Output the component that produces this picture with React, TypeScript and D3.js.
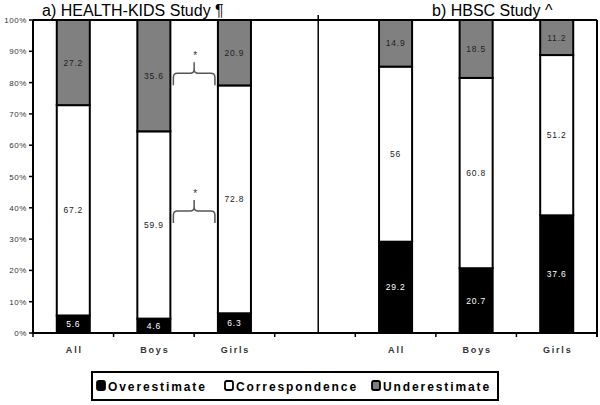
import React from "react";
import * as d3 from "d3";

const categories = ["All", "Boys", "Girls"];
const panelTitles = ["a) HEALTH-KIDS Study ¶", "b) HBSC Study ^"];
const keys = ["Overestimate", "Correspondence", "Underestimate"];
const overA = [5.6, 4.6, 6.3];
const corrA = [67.2, 59.9, 72.8];
const underA = [27.2, 35.6, 20.9];
const overB = [29.2, 20.7, 37.6];
const corrB = [56, 60.8, 51.2];
const underB = [14.9, 18.5, 11.2];
const yTicks = [0, 0.1, 0.2, 0.3, 0.4, 0.5, 0.6, 0.7, 0.8, 0.9, 1];
const braceLevels = [0.83, 0.39];

const fills: Record<string, string> = {
  Overestimate: "#000000",
  Correspondence: "#ffffff",
  Underestimate: "#808080",
};
const labelColors: Record<string, string> = {
  Overestimate: "#ffffff",
  Correspondence: "#222222",
  Underestimate: "#222222",
};

type Row = { id: string; cat: string; [k: string]: any };

const rows: Row[] = [];
categories.forEach((c, i) =>
  rows.push({ id: "a-" + c, cat: c, Overestimate: overA[i], Correspondence: corrA[i], Underestimate: underA[i] })
);
categories.forEach((c, i) =>
  rows.push({ id: "b-" + c, cat: c, Overestimate: overB[i], Correspondence: corrB[i], Underestimate: underB[i] })
);

const domain = ["a-All", "a-Boys", "a-Girls", "gap", "b-All", "b-Boys", "b-Girls"];

export default function App() {
  const W = 600, H = 405;
  const left = 33, right = 597, top = 20, bottom = 333;
  const x = d3.scaleBand<string>().domain(domain).range([left, right]).padding(0);
  const y = d3.scaleLinear().domain([0, 1]).range([bottom, top]);
  const bw = x.bandwidth() * 0.41;
  const cx = (id: string) => (x(id) as number) + x.bandwidth() / 2;

  const stacked = d3.stack<Row>().keys(keys).offset(d3.stackOffsetExpand)(rows);

  const dividerX = (x("gap") as number) + x.bandwidth() * 0.54;

  const bx1 = cx("a-Boys") + bw / 2 + 3;
  const bx2 = cx("a-Girls") - bw / 2 - 3;
  const bxm = (bx1 + bx2) / 2;
  const bracePath = (yb: number) =>
    `M${bx1},${yb + 12} L${bx1},${yb + 4} Q${bx1},${yb} ${bx1 + 4},${yb} L${bxm - 4},${yb} Q${bxm},${yb} ${bxm},${yb - 4} L${bxm},${yb - 11} M${bxm},${yb - 4} Q${bxm},${yb} ${bxm + 4},${yb} L${bx2 - 4},${yb} Q${bx2},${yb} ${bx2},${yb + 4} L${bx2},${yb + 12}`;

  const legendX = [97, 225, 372];

  return (
    <svg width={W} height={H} style={{ position: "absolute", left: 0, top: 0, background: "#fff" }}
      fontFamily="Arial, 'Liberation Sans', sans-serif">
      <rect x={0} y={0} width={W} height={H} fill="#fff" />
      {stacked.map((s) =>
        s.map((d, i) => {
          const r = rows[i];
          return (
            <rect key={s.key + r.id} x={cx(r.id) - bw / 2} y={y(d[1])} width={bw}
              height={y(d[0]) - y(d[1])} fill={fills[s.key]} stroke="#000" strokeWidth={2} />
          );
        })
      )}
      {stacked.map((s) =>
        s.map((d, i) => {
          const r = rows[i];
          return (
            <text key={"l" + s.key + r.id} x={cx(r.id)} y={y((d[0] + d[1]) / 2) + 3}
              textAnchor="middle" fontSize={8.5} letterSpacing={0.8} fill={labelColors[s.key]}>
              {String(r[s.key])}
            </text>
          );
        })
      )}
      <line x1={left} x2={right} y1={top} y2={top} stroke="#000" strokeWidth={2} />
      <line x1={right} x2={right} y1={top} y2={bottom + 4} stroke="#000" strokeWidth={2} />
      <line x1={dividerX} x2={dividerX} y1={top - 5} y2={bottom} stroke="#000" strokeWidth={1.5} />
      <line x1={left} x2={left} y1={top} y2={bottom} stroke="#000" strokeWidth={2} />
      <line x1={left} x2={right} y1={bottom} y2={bottom} stroke="#000" strokeWidth={2} />
      {yTicks.map((t) => (
        <g key={"yt" + t}>
          <line x1={left - 4} x2={left} y1={y(t)} y2={y(t)} stroke="#000" strokeWidth={1.5} />
          <text x={27} y={y(t) + 3} textAnchor="end" fontSize={8} letterSpacing={0.6} fill="#333">
            {Math.round(t * 100) + "%"}
          </text>
        </g>
      ))}
      {domain.map((dm) => (
        <line key={"xt" + dm} x1={x(dm) as number} x2={x(dm) as number} y1={bottom} y2={bottom + 4}
          stroke="#000" strokeWidth={1.5} />
      ))}
      {rows.map((r) => (
        <text key={"c" + r.id} x={cx(r.id) + 1} y={353} textAnchor="middle" fontSize={9}
          fontWeight="bold" letterSpacing={1.8} fill="#333">
          {r.cat}
        </text>
      ))}
      <text x={42} y={15.5} fontSize={16} fill="#000">{panelTitles[0]}</text>
      <text x={432} y={15.5} fontSize={16} fill="#000">{panelTitles[1]}</text>
      {braceLevels.map((b) => (
        <g key={"br" + b}>
          <path d={bracePath(y(b))} fill="none" stroke="#555" strokeWidth={1.5} />
          <text x={bxm + 1} y={y(b) - 14} textAnchor="middle" fontSize={10} fill="#333">*</text>
        </g>
      ))}
      <rect x={92} y={372} width={406} height={28} fill="#fff" stroke="#000" strokeWidth={2} />
      {keys.map((k, i) => (
        <g key={"lg" + k}>
          <rect x={legendX[i]} y={381} width={8} height={9} rx={2} fill={fills[k]} stroke="#000" strokeWidth={1.8} />
          <text x={legendX[i] + 11} y={391} fontSize={12} fontWeight="bold" letterSpacing={1.9} fill="#000">
            {k}
          </text>
        </g>
      ))}
    </svg>
  );
}
